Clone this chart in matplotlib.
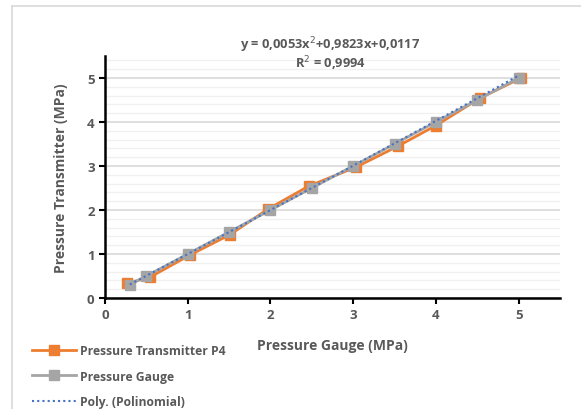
import matplotlib
matplotlib.use("Agg")
import matplotlib.pyplot as plt
import numpy as np
from matplotlib.lines import Line2D

# Data
gauge_x = [0.3, 0.5, 1.0, 1.5, 2.0, 2.5, 3.0, 3.5, 4.0, 4.5, 5.0]
gauge_y = [0.3, 0.5, 1.0, 1.5, 2.0, 2.5, 3.0, 3.5, 4.0, 4.5, 5.0]
trans_x = [0.26, 0.54, 1.03, 1.51, 1.97, 2.46, 3.04, 3.54, 4.00, 4.53, 5.03]
trans_y = [0.33, 0.47, 0.98, 1.44, 2.02, 2.54, 2.98, 3.45, 3.92, 4.54, 5.00]
poly_coef = [0.0053, 0.9823, 0.0117]
x_ticks = [0, 1, 2, 3, 4, 5]
y_ticks = [0, 1, 2, 3, 4, 5]

plt.rcParams['font.family'] = ['Open Sans', 'DejaVu Sans']

fig = plt.figure(figsize=(5.81, 4.10), dpi=100)
ax = fig.add_axes([105/581, (410-299)/410, (560-105)/581, (299-57)/410])

# frame
fig.add_artist(Line2D([12/581, 12/581], [0, 1-7/410], transform=fig.transFigure, color='#d9d9d9', lw=1.2))
fig.add_artist(Line2D([12/581, 1], [1-7/410, 1-7/410], transform=fig.transFigure, color='#d9d9d9', lw=1.2))

ax.set_xlim(0, 5.5)
ax.set_ylim(0, 5.5)
ax.set_xticks(x_ticks)
ax.set_yticks(y_ticks)
ax.set_yticks(np.arange(0, 5.51, 0.2), minor=True)
ax.grid(which='major', axis='y', color='#d9d9d9', lw=1.2)
ax.grid(which='minor', axis='y', color='#f0f0f0', lw=1.0)
ax.set_axisbelow(True)
ax.tick_params(axis='y', which='minor', length=0)
ax.tick_params(which='major', direction='out', length=4, width=1.5, colors='black',
               labelcolor='#595959', labelsize=9.5)
for lbl in ax.get_xticklabels() + ax.get_yticklabels():
    lbl.set_fontweight('bold')
for s in ['top', 'right']:
    ax.spines[s].set_visible(False)
for s in ['left', 'bottom']:
    ax.spines[s].set_linewidth(1.8)
    ax.spines[s].set_color('black')

l1, = ax.plot(trans_x, trans_y, color='#ed7d31', lw=2, marker='s', ms=7, label='Pressure Transmitter P4', zorder=3)
l2, = ax.plot(gauge_x, gauge_y, color='#a5a5a5', lw=2, marker='s', ms=7, label='Pressure Gauge', zorder=4)
xs = np.linspace(min(gauge_x), max(gauge_x), 200)
l3, = ax.plot(xs, np.polyval(poly_coef, xs), color='#4472c4', lw=1.5, ls=(0, (1, 1.5)), label='Poly. (Polinomial)', zorder=5)

fig.text(330/581, 1-45/410, 'y = 0,0053x$^2$+0,9823x+0,0117', ha='center', va='center',
         color='#595959', fontsize=9.3, fontweight='bold')
fig.text(330/581, 1-64/410, 'R$^2$ = 0,9994', ha='center', va='center',
         color='#595959', fontsize=9.3, fontweight='bold')

ax.set_xlabel('Pressure Gauge (MPa)', color='#595959', fontsize=10, fontweight='bold', labelpad=12)
ax.set_ylabel('Pressure Transmitter (MPa)', color='#595959', fontsize=10, fontweight='bold', labelpad=14)

leg = fig.legend(handles=[l1, l2, l3], loc='upper left', bbox_to_anchor=(32/581, 1-345/410),
                 frameon=False, fontsize=8.7, labelcolor='#595959', handlelength=3.6, labelspacing=1.05,
                 borderaxespad=0, handletextpad=0.4, borderpad=0)
for t in leg.get_texts():
    t.set_fontweight('bold')

fig.savefig('out.png', dpi=100)
